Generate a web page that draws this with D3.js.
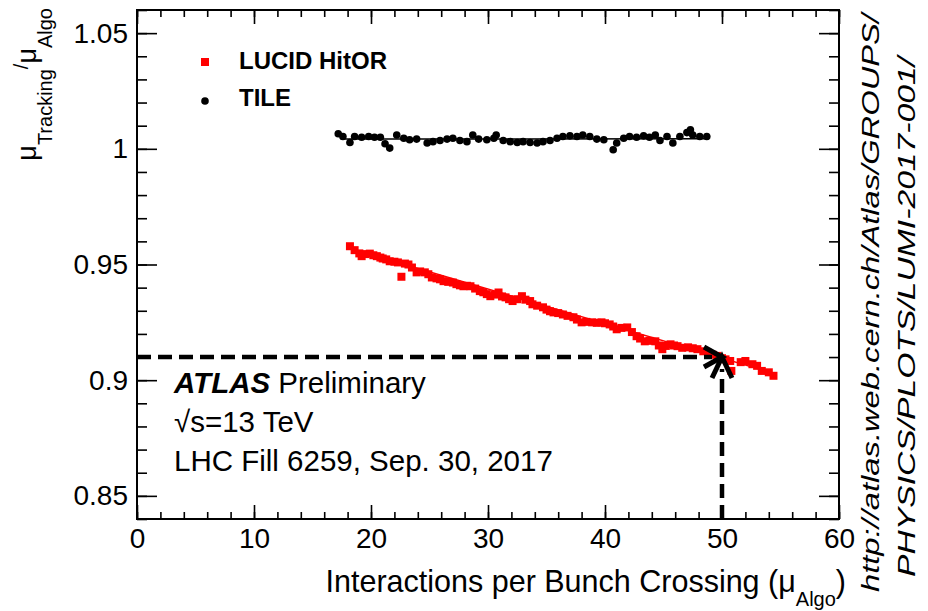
<!DOCTYPE html>
<html>
<head>
<meta charset="utf-8">
<script src="https://cdn.jsdelivr.net/npm/d3@7"></script>
<style>
body { margin: 0; background: #fff; }
svg { display: block; font-family: "Liberation Sans", Arial, Helvetica, sans-serif; }
</style>
</head>
<body>
<svg></svg>
<script>
var width = 928;
var height = 611;

// LUCID HitOR points (mu, ratio)
var lucidMu = [18.2, 18.6, 19.0, 19.2, 19.5, 19.9, 20.2, 20.5, 20.8, 21.0, 21.3, 21.6, 22.0, 22.3, 22.6, 22.9, 23.2, 23.5, 23.9, 24.2,
    24.6, 24.9, 25.2, 25.6, 25.9, 26.2, 26.6, 27.0, 27.3, 27.6, 27.9, 28.2, 28.5, 28.9, 29.3, 29.6, 29.9, 30.2, 30.6, 30.9,
    31.2, 31.5, 31.8, 32.1, 32.5, 32.9, 33.2, 33.6, 33.8, 34.2, 34.7, 35.0, 35.3, 35.6, 36.0, 36.4, 36.8, 37.3, 37.6, 38.0,
    38.4, 38.9, 39.3, 39.7, 40.0, 40.4, 40.7, 41.0, 41.4, 41.9, 42.3, 42.7, 43.0, 43.4, 43.8, 44.3, 44.6, 44.9, 45.2, 45.6,
    45.9, 46.2, 46.6, 47.1, 47.5, 47.9, 48.4, 48.8, 49.2, 49.6, 50.0, 50.3, 50.7, 50.8, 51.6, 52.0, 52.6, 53.0, 53.4, 54.0, 54.4];
var lucidRatio = [0.9579, 0.9562, 0.9548, 0.9536, 0.9545, 0.9547, 0.9540, 0.9536, 0.9530, 0.9526, 0.9522, 0.9514, 0.9512, 0.9509, 0.9447, 0.9504, 0.9500, 0.9487, 0.9466, 0.9470,
    0.9466, 0.9458, 0.9444, 0.9440, 0.9436, 0.9428, 0.9425, 0.9422, 0.9415, 0.9410, 0.9406, 0.9408, 0.9406, 0.9396, 0.9385, 0.9380, 0.9372, 0.9363, 0.9370, 0.9379,
    0.9362, 0.9358, 0.9350, 0.9342, 0.9350, 0.9363, 0.9348, 0.9342, 0.9328, 0.9322, 0.9315, 0.9305, 0.9298, 0.9293, 0.9290, 0.9284, 0.9278, 0.9272, 0.9262, 0.9250,
    0.9252, 0.9250, 0.9248, 0.9250, 0.9246, 0.9241, 0.9232, 0.9220, 0.9226, 0.9228, 0.9208, 0.9190, 0.9180, 0.9168, 0.9170, 0.9168, 0.9150, 0.9134, 0.9148, 0.9155,
    0.9150, 0.9147, 0.9140, 0.9142, 0.9138, 0.9134, 0.9125, 0.9118, 0.9110, 0.9105, 0.9095, 0.9090, 0.9083, 0.9040, 0.9078, 0.9083, 0.9069, 0.9062, 0.9040, 0.9034, 0.9019];

// TILE points (mu, ratio)
var tileMu = [17.2, 17.6, 18.2, 18.6, 19.2, 19.8, 20.3, 20.8, 21.2, 21.6, 22.2, 22.8, 23.3, 23.9, 24.8, 25.3, 25.9, 26.5, 27.0, 27.6,
    28.2, 28.7, 29.2, 29.9, 30.5, 30.7, 31.3, 31.9, 32.5, 33.0, 33.6, 34.2, 34.7, 35.3, 35.9, 36.4, 37.0, 37.6, 38.1, 38.7,
    39.3, 39.9, 40.7, 41.0, 41.6, 42.1, 42.7, 43.3, 43.8, 44.3, 44.7, 45.3, 45.8, 46.4, 47.0, 47.3, 47.5, 48.1, 48.7];
var tileRatio = [1.0065, 1.0053, 1.0027, 1.0053, 1.0050, 1.0053, 1.0050, 1.0050, 1.0022, 1.0003, 1.0060, 1.0046, 1.0039, 1.0042, 1.0025, 1.0031, 1.0036, 1.0042, 1.0046, 1.0036,
    1.0031, 1.0060, 1.0042, 1.0039, 1.0046, 1.0060, 1.0036, 1.0031, 1.0027, 1.0031, 1.0027, 1.0025, 1.0031, 1.0036, 1.0046, 1.0053, 1.0056, 1.0053, 1.0060, 1.0053,
    1.0042, 1.0039, 0.9996, 1.0025, 1.0046, 1.0053, 1.0050, 1.0056, 1.0050, 1.0060, 1.0036, 1.0053, 1.0025, 1.0053, 1.0070, 1.0082, 1.0060, 1.0053, 1.0053];

// linear fits (endpoints)
var lucidFit = [[18.3, 0.9568], [54.4, 0.9030]];
var tileFit = [[17.4, 1.0042], [48.9, 1.0044]];

// ticks
var xMajor = [0, 10, 20, 30, 40, 50, 60];
var xTickLabels = ["0", "10", "20", "30", "40", "50", "60"];
var yMajor = [0.85, 0.9, 0.95, 1, 1.05];
var yTickLabels = ["0.85", "0.9", "0.95", "1", "1.05"];

// arrow marker at mu = 50, ratio = 0.91
var arrowPoint = [50, 0.91];

var svg = d3.select("svg")
    .attr("width", width)
    .attr("height", height);

svg.append("rect").attr("width", width).attr("height", height).attr("fill", "#fff");

var xScale = d3.scaleLinear().domain([0, 60]).range([137, 839]);
var yScale = d3.scaleLinear().domain([0.84, 1.06]).range([519, 10]);

var xMinor = d3.range(0, 61, 2);
var yMinor = d3.range(84, 107, 1).map(d => d / 100);

function styleAxis(g) {
    g.select(".domain").remove();
    g.selectAll("line").attr("stroke", "#000").attr("stroke-width", 1.6);
    g.selectAll("text").attr("fill", "#000").style("font-family", "Liberation Sans, Arial, sans-serif");
}

// bottom axis
svg.append("g")
    .attr("transform", "translate(0,519)")
    .call(d3.axisBottom(xScale).tickValues(xMinor).tickSize(-7).tickFormat(""))
    .call(styleAxis);
svg.append("g")
    .attr("transform", "translate(0,519)")
    .call(d3.axisBottom(xScale).tickValues(xMajor).tickSize(-14).tickPadding(9)
        .tickFormat((d, i) => xTickLabels[i]))
    .call(styleAxis)
    .selectAll("text").style("font-size", "28px");
// top axis (mirror)
svg.append("g")
    .attr("transform", "translate(0,10)")
    .call(d3.axisTop(xScale).tickValues(xMinor).tickSize(-7).tickFormat(""))
    .call(styleAxis);
svg.append("g")
    .attr("transform", "translate(0,10)")
    .call(d3.axisTop(xScale).tickValues(xMajor).tickSize(-14).tickFormat(""))
    .call(styleAxis);
// left axis
svg.append("g")
    .attr("transform", "translate(137,0)")
    .call(d3.axisLeft(yScale).tickValues(yMinor).tickSize(-10).tickFormat(""))
    .call(styleAxis);
svg.append("g")
    .attr("transform", "translate(137,0)")
    .call(d3.axisLeft(yScale).tickValues(yMajor).tickSize(-20).tickPadding(9)
        .tickFormat((d, i) => yTickLabels[i]))
    .call(styleAxis)
    .selectAll("text").style("font-size", "28px");
// right axis (mirror)
svg.append("g")
    .attr("transform", "translate(839,0)")
    .call(d3.axisRight(yScale).tickValues(yMinor).tickSize(-10).tickFormat(""))
    .call(styleAxis);
svg.append("g")
    .attr("transform", "translate(839,0)")
    .call(d3.axisRight(yScale).tickValues(yMajor).tickSize(-20).tickFormat(""))
    .call(styleAxis);

// frame
svg.append("rect")
    .attr("x", 137).attr("y", 10)
    .attr("width", 702).attr("height", 509)
    .attr("fill", "none")
    .attr("stroke", "#000")
    .attr("stroke-width", 2);

var line = d3.line().x(d => xScale(d[0])).y(d => yScale(d[1]));

// TILE fit and points
svg.append("path")
    .attr("d", line(tileFit))
    .attr("stroke", "#000").attr("stroke-width", 1.5).attr("fill", "none");
svg.selectAll("circle.tile")
    .data(d3.zip(tileMu, tileRatio))
    .enter()
    .append("circle")
        .attr("class", "tile")
        .attr("cx", d => xScale(d[0]))
        .attr("cy", d => yScale(d[1]))
        .attr("r", 3.8)
        .attr("fill", "#000");

// LUCID fit and points
svg.append("path")
    .attr("d", line(lucidFit))
    .attr("stroke", "#ff0000").attr("stroke-width", 1.5).attr("fill", "none");
svg.selectAll("rect.lucid")
    .data(d3.zip(lucidMu, lucidRatio))
    .enter()
    .append("rect")
        .attr("class", "lucid")
        .attr("x", d => xScale(d[0]) - 4)
        .attr("y", d => yScale(d[1]) - 4)
        .attr("width", 8)
        .attr("height", 8)
        .attr("fill", "#ff0000");

// dashed arrows pointing at mu=50
var tipX = xScale(arrowPoint[0]);
var tipY = yScale(arrowPoint[1]);
svg.append("line")
    .attr("x1", xScale(0)).attr("y1", tipY)
    .attr("x2", tipX - 10).attr("y2", tipY)
    .attr("stroke", "#000").attr("stroke-width", 4.5)
    .attr("stroke-dasharray", "14,7");
svg.append("line")
    .attr("x1", tipX).attr("y1", 519)
    .attr("x2", tipX).attr("y2", tipY + 12)
    .attr("stroke", "#000").attr("stroke-width", 4.5)
    .attr("stroke-dasharray", "14,7");
svg.append("path")
    .attr("d", "M" + (tipX - 18) + "," + (tipY - 10) + "L" + tipX + "," + tipY + "L" + (tipX - 18) + "," + (tipY + 10))
    .attr("stroke", "#000").attr("stroke-width", 5).attr("fill", "none");
svg.append("path")
    .attr("d", "M" + (tipX - 10) + "," + (tipY + 21) + "L" + tipX + "," + tipY + "L" + (tipX + 10) + "," + (tipY + 21))
    .attr("stroke", "#000").attr("stroke-width", 5).attr("fill", "none");

// legend
svg.append("rect").attr("x", 201).attr("y", 58).attr("width", 8).attr("height", 8).attr("fill", "#ff0000");
svg.append("circle").attr("cx", 205).attr("cy", 101).attr("r", 3.8).attr("fill", "#000");
svg.append("text").attr("x", 239).attr("y", 69)
    .style("font-size", "24px").style("font-weight", "bold")
    .text("LUCID HitOR");
svg.append("text").attr("x", 239).attr("y", 106)
    .style("font-size", "24px").style("font-weight", "bold")
    .text("TILE");

// ATLAS labels
var atlas = svg.append("text").attr("x", 174).attr("y", 393).style("font-size", "29.5px");
atlas.append("tspan").style("font-weight", "bold").style("font-style", "italic").text("ATLAS");
atlas.append("tspan").text(" Preliminary");
svg.append("text").attr("x", 174).attr("y", 432).style("font-size", "29.5px").text("\u221As=13 TeV");
svg.append("text").attr("x", 174).attr("y", 471).style("font-size", "29.5px").text("LHC Fill 6259, Sep. 30, 2017");

// x axis title
var xt = svg.append("text")
    .attr("x", 846).attr("y", 592)
    .attr("text-anchor", "end")
    .style("font-size", "30.5px");
xt.append("tspan").text("Interactions per Bunch Crossing (\u03BC");
xt.append("tspan").attr("dy", 14).style("font-size", "20px").text("Algo");
xt.append("tspan").attr("dy", -14).text(")");

// y axis title
var yt = svg.append("text")
    .attr("transform", "translate(36,8) rotate(-90)")
    .attr("text-anchor", "end")
    .style("font-size", "27px");
yt.append("tspan").text("\u03BC");
yt.append("tspan").attr("dy", 16).style("font-size", "20px").text("Tracking");
yt.append("tspan").attr("dy", -24).style("font-size", "20px").text("/");
yt.append("tspan").attr("dy", 8).text("\u03BC");
yt.append("tspan").attr("dy", 16).style("font-size", "20px").text("Algo");

// url on the right side
svg.append("text")
    .attr("transform", "translate(879,592) rotate(-90)")
    .attr("textLength", 578).attr("lengthAdjust", "spacingAndGlyphs")
    .style("font-size", "23px").style("font-style", "italic")
    .text("http://atlas.web.cern.ch/Atlas/GROUPS/");
svg.append("text")
    .attr("transform", "translate(915,577) rotate(-90)")
    .attr("textLength", 520).attr("lengthAdjust", "spacingAndGlyphs")
    .style("font-size", "23px").style("font-style", "italic")
    .text("PHYSICS/PLOTS/LUMI-2017-001/");
</script>
</body>
</html>
